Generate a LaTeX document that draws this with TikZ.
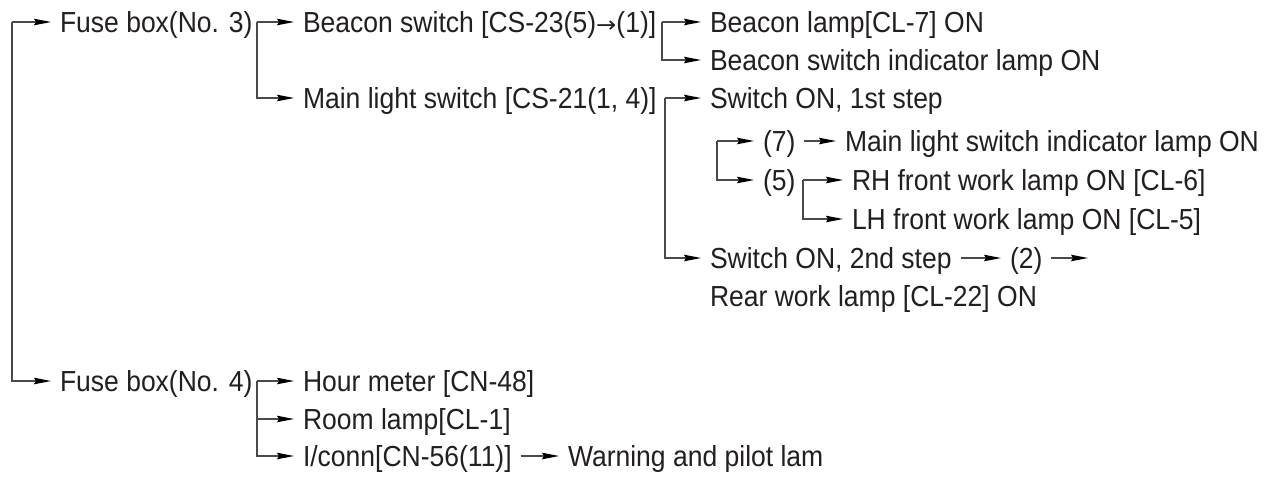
\documentclass[tikz,border=0pt]{standalone}
\usepackage{fontspec}
\setmainfont{Liberation Sans}[FakeStretch=0.914]
\newfontfamily\symf{DejaVu Sans}[FakeStretch=1.1]
\usetikzlibrary{arrows.meta}
\definecolor{ink}{HTML}{231F20}
\definecolor{wirec}{HTML}{4A4A4A}
\begin{document}
\begin{tikzpicture}[x=1pt,y=-1pt,
  lbl/.style={anchor=west,inner sep=0pt,outer xsep=9pt,outer ysep=0pt,
    text height=20.8pt,text depth=0pt,font=\fontsize{29}{33}\selectfont,text=ink},
  wire/.style={draw=wirec,line width=1.1pt,
    -{Stealth[length=17pt,width=6.5pt,inset=2pt,color=black]}}]
\useasboundingbox[fill=white] (0,0) rectangle (1277,480);
% text nodes
\node[lbl] (fb3)   at (51,22)   {Fuse box(No. 3)};
\node[lbl] (bsw)   at (294,22)  {Beacon switch [CS-23(5){\symf\fontsize{22}{26}\selectfont →}(1)]};
\node[lbl] (blamp) at (701,22)  {Beacon lamp[CL-7] ON};
\node[lbl] (bind)  at (701,60)  {Beacon switch indicator lamp ON};
\node[lbl] (mls)   at (294,98)  {Main light switch [CS-21(1, 4)]};
\node[lbl] (s1)    at (701,98)  {Switch ON, 1st step};
\node[lbl] (p7)    at (754,141) {(7)};
\node[lbl] (mlind) at (836,141) {Main light switch indicator lamp ON};
\node[lbl] (p5)    at (754,180) {(5)};
\node[lbl] (rh)    at (843,180) {RH front work lamp ON [CL-6]};
\node[lbl] (lh)    at (843,219) {LH front work lamp ON [CL-5]};
\node[lbl] (s2)    at (701,258) {Switch ON, 2nd step};
\node[lbl] (p2)    at (1001,258) {(2)};
\node[lbl] (rear)  at (701,296) {Rear work lamp [CL-22] ON};
\node[lbl] (fb4)   at (51,381)  {Fuse box(No. 4)};
\node[lbl] (hour)  at (294,381) {Hour meter [CN-48]};
\node[lbl] (room)  at (294,419) {Room lamp[CL-1]};
\node[lbl] (iconn) at (294,456) {I/conn[CN-56(11)]};
\node[lbl] (warn)  at (559,456) {Warning and pilot lam};
% bracket corners
\coordinate (k0) at (12,22);
\coordinate (k1) at (257,22);
\coordinate (k2) at (662,22);
\coordinate (k3) at (665,98);
\coordinate (k4) at (717,141);
\coordinate (k5) at (803,180);
\coordinate (k6) at (257,381);
\coordinate (end2) at (1088,258);
% connectors
\draw[wire] (k0) -- (fb3.west);
\draw[wire] (k0) |- (fb4.west);
\draw[wire] (k1) -- (bsw.west);
\draw[wire] (k1) |- (mls.west);
\draw[wire] (k2) -- (blamp.west);
\draw[wire] (k2) |- (bind.west);
\draw[wire] (k3) -- (s1.west);
\draw[wire] (k3) |- (s2.west);
\draw[wire] (k4) -- (p7.west);
\draw[wire] (k4) |- (p5.west);
\draw[wire] (p7.east) -- (mlind.west);
\draw[wire] (k5) -- (rh.west);
\draw[wire] (k5) |- (lh.west);
\draw[wire] (s2.east) -- (p2.west);
\draw[wire] (p2.east) -- (end2);
\draw[wire] (k6) -- (hour.west);
\draw[wire] (k6) |- (room.west);
\draw[wire] (k6) |- (iconn.west);
\draw[wire] (iconn.east) -- (warn.west);
\end{tikzpicture}
\end{document}
